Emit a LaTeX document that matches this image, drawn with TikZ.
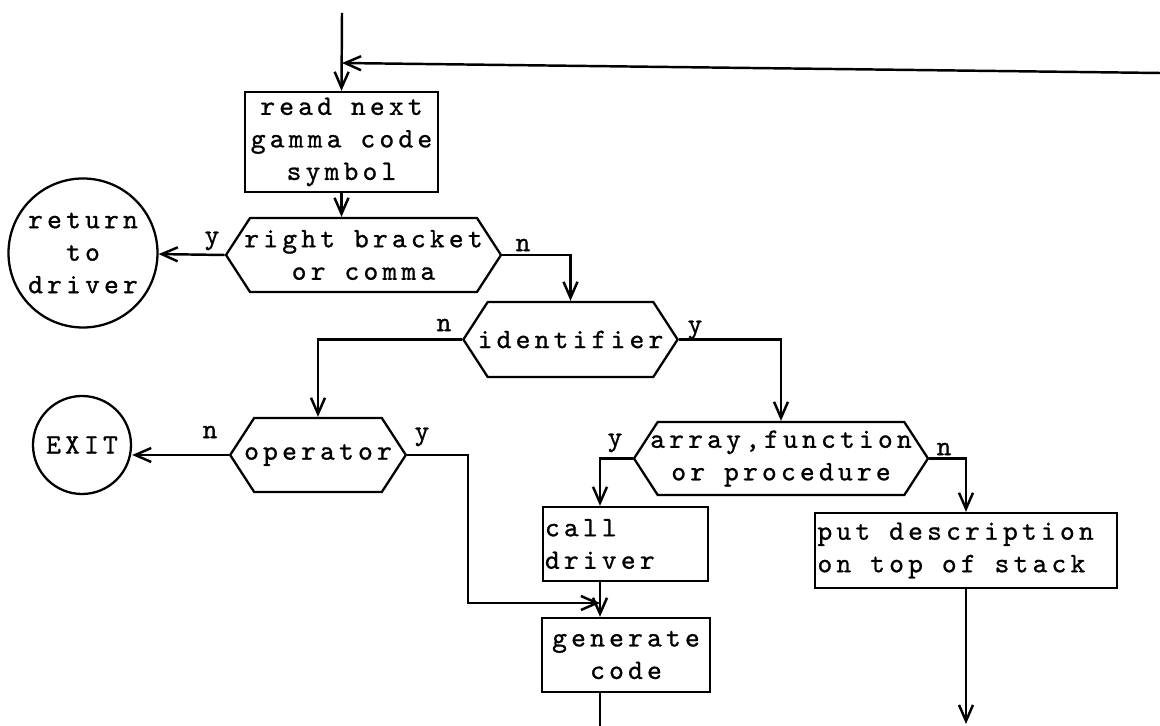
\documentclass[tikz,border=0pt]{standalone}
\usepackage{fontspec}
\newfontfamily\typewriter{lmmono10-regular.otf}[LetterSpace=15, FakeBold=0.9]
\usetikzlibrary{arrows.meta, shapes.geometric, shapes.symbols}

\begin{document}
\begin{tikzpicture}[
        x=0.2mm, y=-0.2mm,
        font=\typewriter\fontsize{16}{18.5}\selectfont,
        stepbox/.style={rectangle, draw=black, line width=1.3pt, inner sep=0.3mm, align=center},
        decision/.style={signal, signal to=west and east, signal pointer angle=114, draw=black, line width=1.3pt, inner xsep=-2mm, inner ysep=0.5mm, align=center},
        terminal/.style={circle, draw=black, line width=1.3pt, inner sep=0pt, align=center},
        answer/.style={inner sep=0pt},
        flow/.style={-{Straight Barb[length=3.2mm, width=2.8mm]}, line width=1.4pt},
        wire/.style={line width=1.4pt},
        ]
        \useasboundingbox (0,0) rectangle (1160,726);

        % Free ends of the lines
        \coordinate (entry) at (342,13);
        \coordinate (loopin) at (1160,73);
        \coordinate (loopjoin) at (342,63);
        \coordinate (merge) at (600,603);
        \coordinate (genout) at (600,726);
        \coordinate (putout) at (966,724);

        % Boxes and tests
        \node[stepbox, minimum width=38.6mm, minimum height=20mm] (read) at (341.5,142) {read next\\gamma code\\symbol};
        \node[decision, minimum width=55mm, minimum height=14.8mm] (bracket) at (363.5,255) {right bracket\\or comma};
        \node[terminal, minimum size=29.8mm] (ret) at (83,253) {return\\to\\driver};
        \node[decision, minimum width=41.4mm, minimum height=15mm] (ident) at (570.5,339.5) {identifier};
        \node[decision, minimum width=34.4mm, minimum height=14.8mm] (oper) at (318,455) {operator};
        \node[terminal, minimum size=19.6mm] (exit) at (82,445) {EXIT};
        \node[decision, minimum width=58.8mm, minimum height=14.6mm] (arr) at (781,458.5) {array,function\\or procedure};
        \node[stepbox, minimum width=33mm, minimum height=14.8mm, align=left] (call) at (625.5,544) {\makebox[32.2mm][l]{call}\\driver};
        \node[stepbox, minimum width=33.6mm, minimum height=14.8mm] (gen) at (626,655) {generate\\code};
        \node[stepbox, minimum width=60.4mm, minimum height=15mm, align=left] (put) at (966,550.5) {\makebox[59.4mm][l]{put description}\\on top of stack};

        % Answers
        \node[answer] (bry) at (212,241) {y};
        \node[answer] (brn) at (523,245) {n};
        \node[answer] (idn) at (444,325) {n};
        \node[answer] (idy) at (695,330) {y};
        \node[answer] (opn) at (210,432) {n};
        \node[answer] (opy) at (422,437) {y};
        \node[answer] (ary) at (615,443) {y};
        \node[answer] (arn) at (944,449) {n};

        % Connectors
        \draw[flow] (entry) -- (read.north);
        \draw[flow] (loopin) -- (loopjoin);
        \draw[flow] (read.south) -- (read.south |- bracket.north);
        \draw[flow] (bracket.west) -- (ret);
        \draw[flow] (bracket.east) -| (ident.north);
        \draw[flow] (ident.west) -| (oper.north);
        \draw[flow] (ident.east) -| (arr.north);
        \draw[flow] (oper.west) -- (oper.west -| exit.east);
        \draw[flow] (oper.east) -- ++(61,0) |- (merge);
        \draw[flow] (arr.west) -| (merge |- call.north);
        \draw[flow] (arr.east) -| (put.north);
        \draw[flow] (merge |- call.south) -- (merge |- gen.north);
        \draw[wire] (merge |- gen.south) -- (genout);
        \draw[flow] (put.south) -- (put.south |- putout);
\end{tikzpicture}
\end{document}
